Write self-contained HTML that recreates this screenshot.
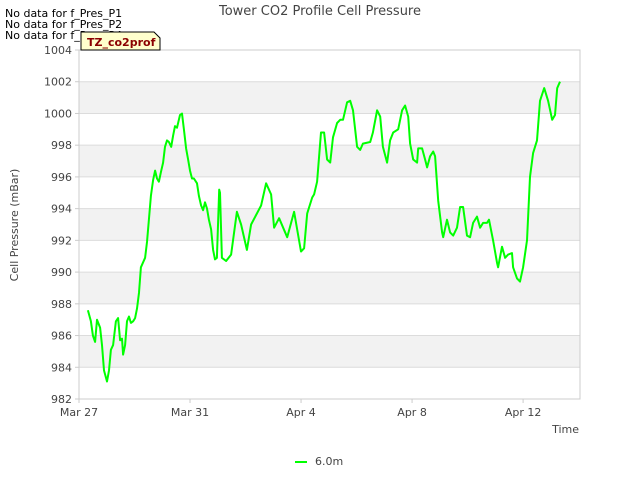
<!DOCTYPE html>
<html><head><meta charset="utf-8"><style>
body{margin:0;background:#fff;font-family:"Liberation Sans","DejaVu Sans",sans-serif;}
svg text{font-family:"DejaVu Sans","Liberation Sans",sans-serif;}
</style></head><body>
<svg id="chart" width="640" height="480" xmlns="http://www.w3.org/2000/svg">
<rect width="640" height="480" fill="#fff"/>
<text x="320" y="15" text-anchor="middle" font-size="13" fill="#444">Tower CO2 Profile Cell Pressure</text>
<text x="5" y="17" font-size="11" fill="#000">No data for f_Pres_P1</text>
<text x="5" y="28" font-size="11" fill="#000">No data for f_Pres_P2</text>
<text x="5" y="39" font-size="11" fill="#000">No data for f_Pres_P4</text>
<g id="plot"></g>
<g>
<path d="M81,32 H154 L160,38 V50 H81 Z" fill="#ffffcc" stroke="#000" stroke-width="1"/>
<text x="87" y="46" font-size="11" font-weight="bold" fill="#8b0000">TZ_co2prof</text>
</g>
<text transform="translate(18,225) rotate(-90)" text-anchor="middle" font-size="11" fill="#444">Cell Pressure (mBar)</text>
<text x="579" y="433" text-anchor="end" font-size="11" fill="#444">Time</text>
<g>
<line x1="295" y1="462" x2="307" y2="462" stroke="#00ff00" stroke-width="2"/>
<text x="315" y="465" font-size="11" fill="#444">6.0m</text>
</g>
</svg>
<script>
const days=[0.32,0.43,0.50,0.58,0.65,0.76,0.83,0.90,1.01,1.08,1.15,1.23,1.33,1.41,1.48,1.55,1.59,1.66,1.73,1.80,1.87,1.95,2.02,2.09,2.16,2.23,2.38,2.45,2.52,2.59,2.67,2.74,2.81,2.88,2.95,3.03,3.10,3.17,3.24,3.32,3.39,3.46,3.53,3.64,3.71,3.78,3.86,3.93,4.00,4.07,4.14,4.25,4.32,4.40,4.47,4.54,4.61,4.68,4.76,4.83,4.90,4.97,5.05,5.08,5.15,5.30,5.48,5.69,5.84,6.05,6.20,6.38,6.56,6.74,6.92,7.03,7.21,7.50,7.75,8.00,8.11,8.22,8.40,8.47,8.58,8.72,8.83,8.94,9.05,9.15,9.30,9.41,9.51,9.66,9.77,9.87,10.02,10.13,10.23,10.49,10.59,10.74,10.85,10.95,11.10,11.21,11.32,11.50,11.64,11.75,11.86,11.93,12.04,12.18,12.22,12.36,12.47,12.54,12.65,12.76,12.83,12.94,13.08,13.12,13.26,13.37,13.48,13.62,13.73,13.84,13.98,14.09,14.20,14.34,14.45,14.56,14.70,14.77,14.92,15.06,15.10,15.24,15.35,15.46,15.60,15.64,15.78,15.89,16.00,16.14,16.25,16.36,16.50,16.61,16.76,16.90,17.05,17.15,17.23,17.33];
const pressure=[987.6,986.9,986.0,985.6,987.0,986.5,985.4,983.8,983.1,983.8,985.1,985.4,986.9,987.1,985.7,985.8,984.8,985.4,986.9,987.2,986.8,986.9,987.1,987.7,988.7,990.3,990.9,991.9,993.3,994.8,995.8,996.4,995.9,995.7,996.3,996.9,997.9,998.3,998.2,997.9,998.6,999.2,999.1,999.9,1000.0,999.0,997.8,997.1,996.4,995.9,995.9,995.6,994.8,994.2,993.9,994.4,994.0,993.3,992.7,991.4,990.8,990.9,995.2,995.0,990.9,990.7,991.1,993.8,993.0,991.4,993.0,993.6,994.2,995.6,994.9,992.8,993.4,992.2,993.8,991.3,991.5,993.7,994.7,994.9,995.7,998.8,998.8,997.1,996.9,998.5,999.4,999.6,999.6,1000.7,1000.8,1000.2,997.9,997.7,998.1,998.2,998.8,1000.2,999.8,997.9,996.9,998.3,998.8,999.0,1000.2,1000.5,999.8,998.1,997.1,996.9,997.8,997.8,997.1,996.6,997.3,997.6,997.3,994.5,992.5,992.2,993.3,992.5,992.3,992.8,994.1,994.1,992.3,992.2,993.1,993.5,992.8,993.1,993.1,993.3,992.0,990.6,990.3,991.6,990.9,991.1,991.2,990.3,989.6,989.4,990.3,992.0,996.0,997.5,998.3,1000.8,1001.6,1000.8,999.6,999.9,1001.6,1002.0];
const yTicks=[982,984,986,988,990,992,994,996,998,1000,1002,1004];
const xTickDays=[0,4,8,12,16];
const xTickLabels=["Mar 27","Mar 31","Apr 4","Apr 8","Apr 12"];

const L=79,R=580,T=50,B=399,X0=0,X1=18.05,Y0=982,Y1=1004;
const xs=d=>L+(d-X0)/(X1-X0)*(R-L);
const ys=v=>B-(v-Y0)/(Y1-Y0)*(B-T);
const NS="http://www.w3.org/2000/svg";
const g=document.getElementById('plot');
function mk(t,a){const e=document.createElementNS(NS,t);for(const k in a)e.setAttribute(k,a[k]);g.appendChild(e);return e;}
const bg=mk('rect',{x:L,y:T,width:R-L,height:B-T,fill:'#fff'});


for(let i=0;i<yTicks.length-1;i++){
  if(i%2===1){
    const b=mk('rect',{x:L,y:ys(yTicks[i+1]),width:R-L,height:ys(yTicks[i])-ys(yTicks[i+1]),fill:'#f2f2f2'});
    
    
  }
}
yTicks.forEach(v=>{
  const y=ys(v);
  const ln=mk('line',{x1:L,x2:R,y1:y,y2:y,stroke:'#dcdcdc','stroke-width':1});
  
  
  const tk=mk('line',{x1:L-4,x2:L,y1:y,y2:y,stroke:'#ccc'});
  
  
  const t=mk('text',{x:L-7,y:y+4,'text-anchor':'end','font-size':11,fill:'#444'});
  t.textContent=v;
  
  
});
const frame=mk('rect',{x:L,y:T,width:R-L,height:B-T,fill:'none',stroke:'#ccc'});


xTickDays.forEach((d,i)=>{
  const x=xs(d);
  const tk=mk('line',{x1:x,x2:x,y1:B,y2:B+4,stroke:'#ccc'});
  
  
  const t=mk('text',{x:x,y:B+17,'text-anchor':'middle','font-size':11,fill:'#444'});
  t.textContent=xTickLabels[i];
  
  
});
const pts=days.map((d,i)=>xs(d).toFixed(1)+','+ys(pressure[i]).toFixed(1)).join(' ');
const line=mk('polyline',{points:pts,fill:'none',stroke:'#00ff00','stroke-width':2,'stroke-linejoin':'round'});


</script>
</body></html>
